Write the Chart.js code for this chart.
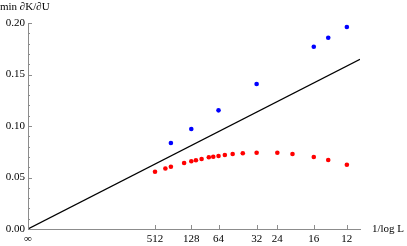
<!DOCTYPE html>
<html>
<head>
<meta charset="utf-8">
<script src="https://cdn.jsdelivr.net/npm/chart.js@4/dist/chart.umd.min.js"></script>
<style>
  html, body { margin: 0; padding: 0; background: #fff; }
  #wrap { width: 407px; height: 246px; }
</style>
</head>
<body>
<div id="wrap"><canvas id="chart" width="407" height="246"></canvas></div>
<script>
// system sizes L, x axis is 1/log L
const redL = [512, 320, 256, 160, 128, 112, 96, 80, 72, 64, 56, 48, 40, 32, 24, 20, 16, 14, 12];
const redY = [0.0556, 0.0587, 0.0605, 0.0641, 0.0658, 0.0668, 0.0680, 0.0696, 0.0702, 0.0709,
              0.0718, 0.0728, 0.0735, 0.0741, 0.0741, 0.0728, 0.0699, 0.0670, 0.0624];
const blueL = [256, 128, 64, 32, 16, 14, 12];
const blueY = [0.0835, 0.0971, 0.1152, 0.1408, 0.1770, 0.1857, 0.1961];
const lineX = [0, 0.419];
const lineY = [0, 0.1648];
const xTickL = [Infinity, 512, 128, 64, 32, 24, 16, 12];
const xTickLabels = ['∞', '512', '128', '64', '32', '24', '16', '12'];

const inv = L => 1 / Math.log(L);
const axisColor = '#8c8c8c';
const font = { family: '"Liberation Serif", "DejaVu Serif", serif', size: 11 };

// inward tick marks and axis labels, Mathematica style
const decor = {
    id: 'decor',
    afterDraw(chart) {
        const ctx = chart.ctx;
        const { left, bottom } = chart.chartArea;
        const xs = chart.scales.x, ys = chart.scales.y;
        ctx.save();
        ctx.strokeStyle = axisColor;
        ctx.lineWidth = 1;
        ctx.beginPath();
        for (let i = 0; i <= 20; i++) {
            const py = Math.round(ys.getPixelForValue(i / 100)) + 0.5;
            const len = i % 5 === 0 ? 4 : 2;
            ctx.moveTo(left, py);
            ctx.lineTo(left + len, py);
        }
        xTickL.forEach(L => {
            const px = Math.round(xs.getPixelForValue(inv(L))) + 0.5;
            ctx.moveTo(px, bottom);
            ctx.lineTo(px, bottom - 4);
        });
        ctx.stroke();
        ctx.fillStyle = '#000';
        ctx.font = '11px ' + font.family;
        ctx.textBaseline = 'middle';
        ctx.textAlign = 'left';
        ctx.fillText('min ∂K/∂U', 0, 7);
        ctx.fillText('1/log L', 372, bottom);
        ctx.restore();
    }
};

new Chart(document.getElementById('chart'), {
    type: 'scatter',
    data: {
        datasets: [{
            type: 'line',
            data: lineX.map((x, i) => ({ x: x, y: lineY[i] })),
            borderColor: '#000',
            borderWidth: 1.2,
            pointRadius: 0,
            fill: false
        }, {
            data: blueL.map((L, i) => ({ x: inv(L), y: blueY[i] })),
            backgroundColor: '#0000ff',
            borderWidth: 0,
            pointRadius: 2.3
        }, {
            data: redL.map((L, i) => ({ x: inv(L), y: redY[i] })),
            backgroundColor: '#ff0000',
            borderWidth: 0,
            pointRadius: 2.3
        }]
    },
    options: {
        responsive: false,
        animation: false,
        events: [],
        layout: { padding: { top: 23, right: 47, bottom: 0, left: 0 } },
        scales: {
            x: {
                type: 'linear',
                min: 0,
                max: 0.419,
                afterFit: s => { s.height = 17; },
                afterBuildTicks: s => { s.ticks = xTickL.map(L => ({ value: inv(L) })); },
                grid: { display: false, drawTicks: false },
                border: { display: true, color: axisColor },
                ticks: {
                    autoSkip: false,
                    maxRotation: 0,
                    padding: 4,
                    color: '#000',
                    font: font,
                    callback: (v, i) => xTickLabels[i]
                }
            },
            y: {
                min: 0,
                max: 0.2,
                afterFit: s => { s.width = 28; },
                grid: { display: false, drawTicks: false },
                border: { display: true, color: axisColor },
                ticks: {
                    stepSize: 0.05,
                    autoSkip: false,
                    padding: 3,
                    color: '#000',
                    font: font,
                    callback: v => v.toFixed(2)
                }
            }
        },
        plugins: {
            legend: { display: false },
            tooltip: { enabled: false }
        }
    },
    plugins: [decor]
});
</script>
</body>
</html>
